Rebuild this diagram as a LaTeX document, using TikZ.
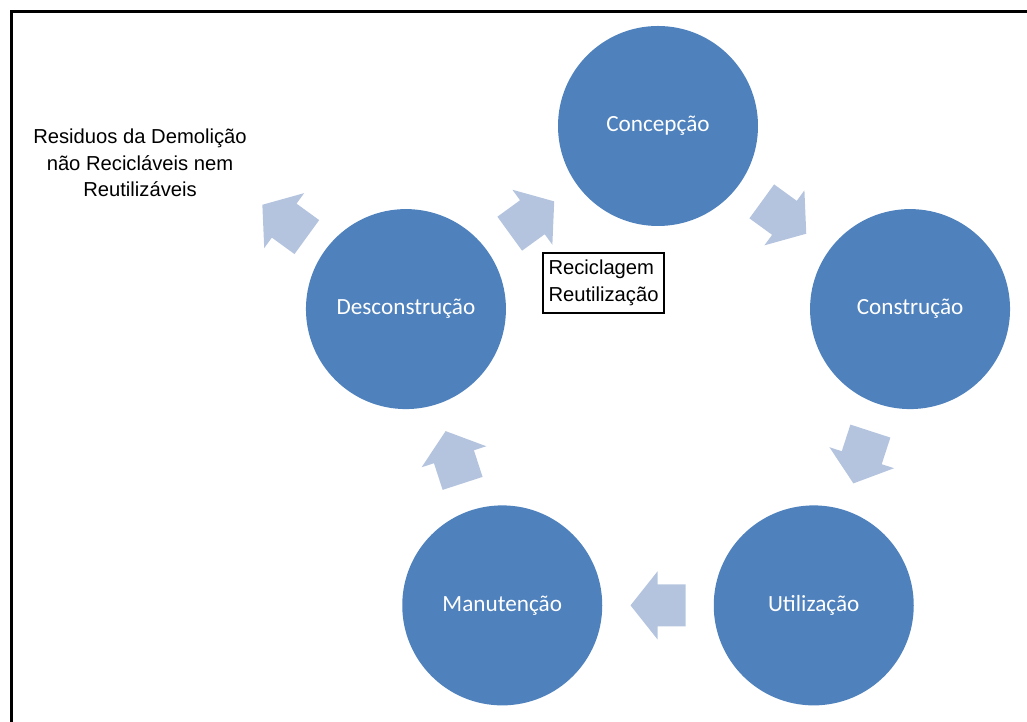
\documentclass[tikz,border=0pt]{standalone}
\usepackage{fontspec}
\setmainfont{Liberation Sans}
\newfontfamily\stagefont{Carlito}
\usepackage{tikz}
\usetikzlibrary{calc}
\definecolor{stageblue}{RGB}{79,129,189}
\definecolor{flowblue}{RGB}{180,196,222}
\tikzset{
        stage/.style={circle, fill=stageblue, minimum size=4cm, inner sep=0pt,
                text=white, font=\stagefont\fontsize{13.2}{16}\selectfont},
        note/.style={font=\fontsize{11.5}{15}\selectfont, inner sep=0pt},
        pics/flow/.style={code={
                \fill[flowblue] (-0.55,-0.42) -- (0.01,-0.42) -- (0.01,-0.68) -- (0.55,0)
                        -- (0.01,0.68) -- (0.01,0.42) -- (-0.55,0.42) -- cycle;
        }}
}

\begin{document}
\begin{tikzpicture}
        \useasboundingbox (0cm, 0cm) rectangle (20.54cm, 14.44cm);
        \draw[line width=2pt] (0.23cm, -1cm) |- (21.5cm, 14.21cm);
        % cycle
        \node[stage] (conc) at (13.160000cm, 11.920000cm) {Concepção};
        \node[stage] (cons) at (18.201000cm, 8.258000cm) {Construção};
        \node[stage] (util) at (16.275000cm, 2.332000cm) {Utilização};
        \node[stage] (manu) at (10.045000cm, 2.332000cm) {Manutenção};
        \node[stage] (decon) at (8.119000cm, 8.258000cm) {Desconstrução};
        % notes
        \node[note, align=center] (resid) at (2.800000cm, 11.180000cm)
                {Residuos da Demolição\\não Recicláveis nem\\Reutilizáveis};
        \node[note, draw, line width=0.8pt, align=left, text width=2.2cm,
                inner xsep=0.11cm, minimum height=1.2cm] (recic) at (12.070000cm, 8.780000cm)
                {Reciclagem\\Reutilização};
        % arrows
        \pic[rotate=-36] at ($(conc)!0.5!(cons)$) {flow};
        \pic[rotate=-108] at ($(cons)!0.5!(util)$) {flow};
        \pic[rotate=180] at ($(util)!0.5!(manu)$) {flow};
        \pic[rotate=108] at ($(manu)!0.5!(decon)$) {flow};
        \pic[rotate=36] at ($(decon)!0.5!(conc)$) {flow};
        \pic[rotate=144] at ($(decon)+(144:3cm)$) {flow};
\end{tikzpicture}
\end{document}
